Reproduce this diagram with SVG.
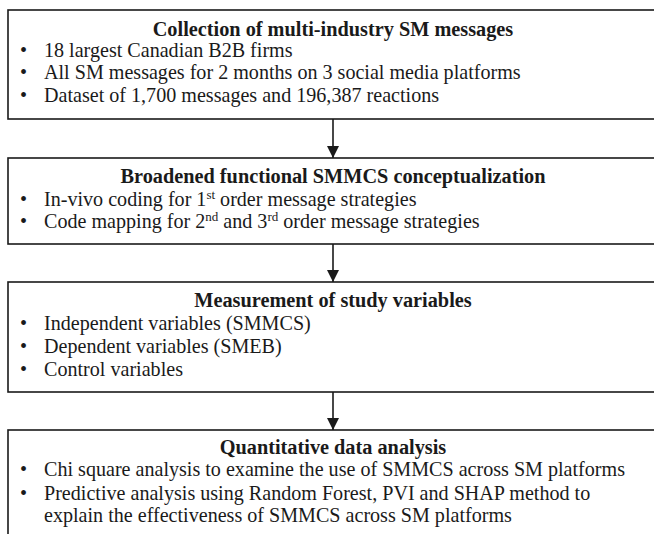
<svg xmlns="http://www.w3.org/2000/svg" width="654" height="534" viewBox="0 0 654 534">
<style>
.box{fill:#fff;stroke:#1a1a1a;stroke-width:1.6}
text{font-family:"Liberation Serif","Times New Roman",serif;fill:#1a1a1a;font-size:20.1px}
.t{font-weight:bold;text-anchor:middle;font-size:20.3px}
.sup{font-size:13px}
.conn line{stroke:#1a1a1a;stroke-width:1.6}
</style>
<defs>
<marker id="ah" markerWidth="12" markerHeight="12" refX="12" refY="6" orient="auto" markerUnits="userSpaceOnUse">
<path d="M0,0 L12,6 L0,12 Z" fill="#1a1a1a"/>
</marker>
</defs>
<rect width="654" height="534" fill="#fff"/>
<g id="node1">
<rect class="box" x="8" y="10" width="660" height="109"/>
<text class="t" x="333" y="36">Collection of multi-industry SM messages</text>
<text x="20" y="57">•</text><text x="44" y="57">18 largest Canadian B2B firms</text>
<text x="20" y="79">•</text><text x="44" y="79">All SM messages for 2 months on 3 social media platforms</text>
<text x="20" y="102">•</text><text x="44" y="102">Dataset of 1,700 messages and 196,387 reactions</text>
</g>
<g id="node2">
<rect class="box" x="8" y="158" width="660" height="86"/>
<text class="t" x="333" y="183">Broadened functional SMMCS conceptualization</text>
<text x="20" y="206">•</text><text x="44" y="206">In-vivo coding for 1<tspan class="sup" dy="-7">st</tspan><tspan dy="7"> order message strategies</tspan></text>
<text x="20" y="228">•</text><text x="44" y="228">Code mapping for 2<tspan class="sup" dy="-7">nd</tspan><tspan dy="7"> and 3</tspan><tspan class="sup" dy="-7">rd</tspan><tspan dy="7"> order message strategies</tspan></text>
</g>
<g id="node3">
<rect class="box" x="8" y="282" width="660" height="110"/>
<text class="t" x="333" y="307">Measurement of study variables</text>
<text x="20" y="330">•</text><text x="44" y="330">Independent variables (SMMCS)</text>
<text x="20" y="353">•</text><text x="44" y="353">Dependent variables (SMEB)</text>
<text x="20" y="376">•</text><text x="44" y="376">Control variables</text>
</g>
<g id="node4">
<rect class="box" x="8" y="430" width="660" height="120"/>
<text class="t" x="333" y="454">Quantitative data analysis</text>
<text x="20" y="476">•</text><text x="44" y="476">Chi square analysis to examine the use of SMMCS across SM platforms</text>
<text x="20" y="500">•</text><text x="44" y="500">Predictive analysis using Random Forest, PVI and SHAP method to</text>
<text x="44" y="522">explain the effectiveness of SMMCS across SM platforms</text>
</g>
<g class="conn" id="connectors">
<line x1="333" y1="119" x2="333" y2="158" marker-end="url(#ah)"/>
<line x1="333" y1="244" x2="333" y2="282" marker-end="url(#ah)"/>
<line x1="333" y1="392" x2="333" y2="430" marker-end="url(#ah)"/>
</g>
</svg>
